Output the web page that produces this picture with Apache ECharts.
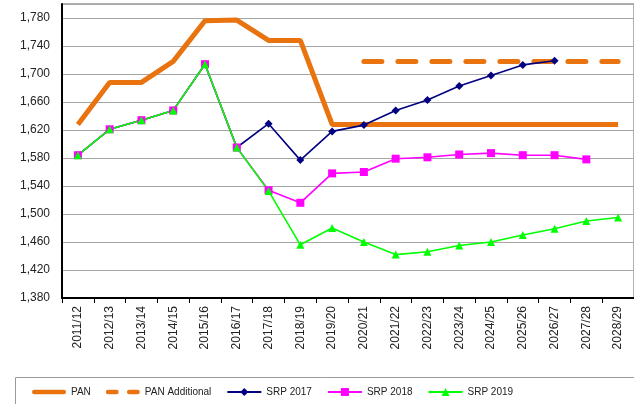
<!DOCTYPE html>
<html><head><meta charset="utf-8">
<script src="https://cdn.jsdelivr.net/npm/echarts@6/dist/echarts.min.js"></script>
<style>html,body{margin:0;padding:0;background:#fff}#c{width:634px;height:404px}</style>
</head><body><div id="c"></div>
<script>
const categories = ['2011/12','2012/13','2013/14','2014/15','2015/16','2016/17','2017/18','2018/19','2019/20','2020/21','2021/22','2022/23','2023/24','2024/25','2025/26','2026/27','2027/28','2028/29'];
const pan = [1628,1688,1688,1718,1776,1777,1748,1748,1628,1628,1628,1628,1628,1628,1628,1628,1628,1628];
const panAdditional = [null,null,null,null,null,null,null,null,null,1718,1718,1718,1718,1718,1718,1718,1718,1718];
const srp2017 = [1584,1621,1634,1648,1714,1595,1629,1577,1618,1627,1648,1663,1683,1698,1713,1719,null,null];
const srp2018 = [1584,1621,1634,1648,1714,1595,1534,1516,1558,1560,1579,1581,1585,1587,1584,1584,1578,null];
const srp2019 = [1584,1621,1634,1648,1714,1595,1533,1456,1480,1460,1442,1446,1455,1460,1470,1479,1490,1495];
const yMin = 1380, yMax = 1800, yStep = 40;

const FONT = 'Arial, "Liberation Sans", sans-serif';
const ORANGE = '#E8730F';
const chart = echarts.init(document.getElementById('c'), null, {renderer:'canvas'});
const smallLine = (name, data, color, symbol, size) => ({
  name, type:'line', data, symbol, symbolSize:size, showSymbol:true,
  lineStyle:{color, width:1.6}, itemStyle:{color}, connectNulls:false, animation:false
});
chart.setOption({
  animation:false,
  textStyle:{fontFamily:FONT},
  grid:{left:62, top:4, bottom:106, width:574, containLabel:false, show:true, borderColor:'#999', borderWidth:1.5, backgroundColor:'transparent'},
  xAxis:{
    type:'category', data:categories, boundaryGap:true,
    axisLine:{lineStyle:{color:'#000', width:2}},
    axisTick:{show:true, length:5, lineStyle:{color:'#000'}},
    axisLabel:{rotate:90, fontSize:12, color:'#222', fontFamily:FONT, margin:8, interval:0}
  },
  yAxis:{
    type:'value', min:yMin, max:yMax, interval:yStep,
    axisLine:{show:true, lineStyle:{color:'#000', width:2}},
    axisTick:{show:false},
    axisLabel:{fontSize:12, color:'#222', fontFamily:FONT, margin:12, showMaxLabel:false,
      formatter:v => v.toLocaleString('en-US')},
    splitLine:{lineStyle:{color:'#a6a6a6', width:1}}
  },
  legend:{
    left:32, top:387, padding:0, itemWidth:34, itemHeight:10, itemGap:15,
    textStyle:{fontSize:10, color:'#222', fontFamily:FONT},
    data:[
      {name:'PAN', icon:'path://M2.5,0H35.5A2.5,2.5 0 0 1 35.5,5H2.5A2.5,2.5 0 0 1 2.5,0Z'},
      {name:'PAN Additional', icon:'path://M2.5,0H11.5A2.5,2.5 0 0 1 11.5,5H2.5A2.5,2.5 0 0 1 2.5,0Z M25.5,0H34.5A2.5,2.5 0 0 1 34.5,5H25.5A2.5,2.5 0 0 1 25.5,0Z'},
      'SRP 2017','SRP 2018','SRP 2019'
    ]
  },
  graphic:[{type:'rect', shape:{x:15.5, y:377.5, width:640, height:40}, style:{fill:'none', stroke:'#9a9a9a', lineWidth:1}, silent:true}],
  series:[
    {name:'PAN', type:'line', data:pan, symbol:'none', lineStyle:{color:ORANGE, width:5}, itemStyle:{color:ORANGE}},
    {name:'PAN Additional', type:'line', data:panAdditional, symbol:'none', lineStyle:{color:ORANGE, width:5, type:[18,16], cap:'round'}, itemStyle:{color:ORANGE}},
    smallLine('SRP 2017', srp2017, '#000080', 'diamond', 8),
    smallLine('SRP 2018', srp2018, '#FF00FF', 'rect', 8),
    smallLine('SRP 2019', srp2019, '#00FF00', 'triangle', 8)
  ]
});
</script></body></html>
